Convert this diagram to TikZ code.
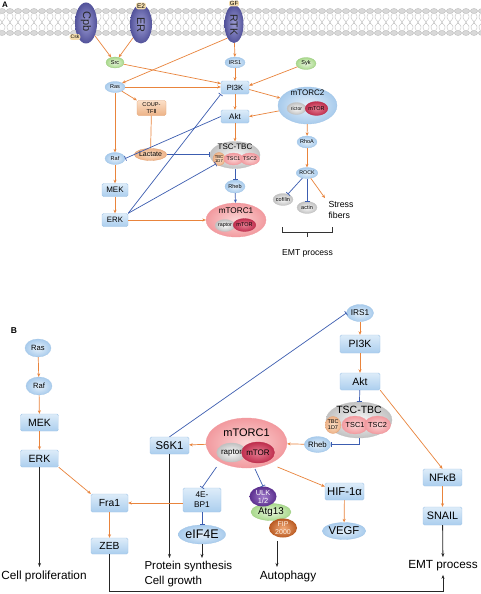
\documentclass[tikz,border=0pt]{standalone}
\usepackage{fontspec}
\setmainfont{Liberation Sans}
\newfontfamily\dejavu{DejaVu Sans}
\usetikzlibrary{shapes.geometric,arrows.meta,calc}
\definecolor{oline}{HTML}{E9843C}
\definecolor{bline}{HTML}{3C5DB0}
\definecolor{bxtop}{HTML}{DDECF9}
\definecolor{bxbot}{HTML}{ABCEEE}
\definecolor{bxdraw}{HTML}{A2C6E8}
\definecolor{elin}{HTML}{E6F1FB}
\definecolor{elout}{HTML}{A8CBEC}
\definecolor{gin}{HTML}{EAF6DF}
\definecolor{gout}{HTML}{A9D98C}
\definecolor{gdraw}{HTML}{9CCB80}
\definecolor{orin}{HTML}{FBE0C8}
\definecolor{orout}{HTML}{EDB287}
\definecolor{ordraw}{HTML}{E3A070}
\definecolor{gyin}{HTML}{FAFAFA}
\definecolor{gyout}{HTML}{C2C2C2}
\definecolor{pkin}{HTML}{FBD6D6}
\definecolor{pkout}{HTML}{F29A9F}
\definecolor{rdin}{HTML}{E57D92}
\definecolor{rdout}{HTML}{BF2F4E}
\definecolor{rcin}{HTML}{9C9CD4}
\definecolor{rcout}{HTML}{52529A}
\definecolor{tanc}{HTML}{F4DDAE}
\definecolor{ulkin}{HTML}{A07BCB}
\definecolor{ulkout}{HTML}{5B2F8E}
\definecolor{fipin}{HTML}{F2AA78}
\definecolor{fipout}{HTML}{B95A22}
\newcommand\fsz[1]{\fontsize{#1}{#1}\selectfont}
\tikzset{
  sz/.style 2 args={minimum width=#1pt, minimum height=#2pt},
  bx/.style={rectangle, rounded corners=1.5pt, top color=bxtop, bottom color=bxbot, draw=bxdraw, line width=0.4pt, inner sep=0pt, align=center},
  el/.style={ellipse, inner color=elin, outer color=elout, draw=bxdraw, line width=0.3pt, inner sep=0pt, align=center},
  gel/.style={ellipse, inner color=gin, outer color=gout, draw=gdraw, line width=0.3pt, inner sep=0pt},
  oel/.style={ellipse, inner color=orin, outer color=orout, draw=ordraw, line width=0.3pt, inner sep=0pt, align=center},
  obx/.style={rectangle, rounded corners=1.5pt, top color=orin, bottom color=orout, draw=ordraw, line width=0.3pt, inner sep=0pt, align=center},
  gyel/.style={ellipse, inner color=gyin, outer color=gyout, draw=gyout, line width=0.3pt, inner sep=0pt, align=center},
  pkel/.style={ellipse, inner color=pkin, outer color=pkout, draw=pkout, line width=0.3pt, inner sep=0pt, align=center},
  rdel/.style={ellipse, inner color=rdin, outer color=rdout, draw=rdout, line width=0.3pt, inner sep=0pt, align=center},
  rec/.style={ellipse, inner color=rcin, outer color=rcout, inner sep=0pt},
  tagn/.style={rectangle, rounded corners=2pt, fill=tanc, inner sep=1pt},
  oarr/.style={draw=oline, line width=0.7pt, -{Stealth[length=3.5pt,width=3pt]}},
  oln/.style={draw=oline, line width=0.7pt},
  inh/.style={draw=bline, line width=0.7pt, -{Bar[width=5pt]}},
  barr/.style={draw=bline, line width=0.7pt, -{Stealth[length=3.5pt,width=3pt]}},
  karr/.style={draw=black!85, line width=0.8pt, -{Stealth[length=4pt,width=3pt]}},
  tail/.style={draw=gray!55, line width=0.35pt},
  headc/.style={fill=gray!30, draw=gray!60, line width=0.3pt},
}
\begin{document}
\begin{tikzpicture}[x=1pt,y=-1pt]
\useasboundingbox[fill=white] (0,0) rectangle (480,594);
% ---------------- membrane
\foreach \i in {0,...,60}{
  \draw[tail] (\i*8+0.5,13.5) .. controls (\i*8-2.5,16.5) and (\i*8-1,19.5) .. (\i*8+2.8,22.3);
  \draw[tail] (\i*8+3.5,13.5) .. controls (\i*8+6.5,16.5) and (\i*8+5,19.5) .. (\i*8+1.2,22.3);
  \draw[tail] (\i*8+0.5,30.5) .. controls (\i*8-2.5,27.5) and (\i*8-1,24.5) .. (\i*8+2.8,22.7);
  \draw[tail] (\i*8+3.5,30.5) .. controls (\i*8+6.5,27.5) and (\i*8+5,24.5) .. (\i*8+1.2,22.7);
}
\foreach \i in {0,...,60}{
  \path[headc] (\i*8+2,11) ellipse [x radius=3.6pt, y radius=2.5pt];
  \path[headc] (\i*8+2,33) ellipse [x radius=3.6pt, y radius=2.5pt];
}
\node[font=\bfseries\fsz{8}] (labA) at (5,5) {A};
% receptors
\node[rec, sz={22}{41}] (cpb) at (86,23) {};
\node[rotate=-90, font=\fsz{11}, text=black!85] (cpbt) at (86,22) {Cpb};
\node[tagn, font=\fsz{5}] (csk) at (75,37) {Csk};
\node[rec, sz={22}{39}] (er) at (141,24) {};
\node[rotate=-90, font=\fsz{11}, text=black!85] (ert) at (141,25) {ER};
\node[tagn, font=\fsz{6.5}] (e2) at (141,6) {E2};
\node[rec, sz={19}{38}] (rtk) at (234,24) {};
\node[rotate=-90, font=\fsz{10.5}, text=black!85] (rtkt) at (234,25) {RTK};
\node[tagn, font=\fsz{6}, inner sep=0.8pt] (gf) at (234,3.5) {GF};
% ---------------- A nodes
\node[gel, sz={18}{11}, font=\fsz{5.5}] (srca) at (115,62.5) {Src};
\node[el, sz={20}{11}, font=\fsz{5.5}] (rasa) at (115,87) {Ras};
\node[obx, sz={29}{15}, font=\fontsize{5.6}{6.5}\selectfont] (coup) at (151.5,108) {COUP-\\TF{\dejavu Ⅱ}};
\node[el, sz={20}{12}, font=\fsz{5.5}] (rafa) at (115,158.5) {Raf};
\node[oel, sz={28}{12}, font=\fsz{7}] (lact) at (150.5,154.5) {Lactate};
\node[bx, sz={26}{13}, font=\fsz{8}] (meka) at (115,190) {MEK};
\node[bx, sz={26}{13}, font=\fsz{7.8}] (erka) at (115,220) {ERK};
\node[el, sz={20}{11}, font=\fsz{5.5}] (irs1a) at (235,62.5) {IRS1};
\node[gel, sz={20}{12}, font=\fsz{5.5}] (syk) at (306,63.5) {Syk};
\node[bx, sz={28}{13}, font=\fsz{7.5}] (pi3ka) at (235,87.5) {PI3K};
\node[bx, sz={28}{13}, font=\fsz{8}] (akta) at (235,116.5) {Akt};
\node[el, sz={59}{37}] (mtorc2) at (307.5,105.5) {};
\node[font=\fsz{8}] (mtorc2t) at (307.5,93) {mTORC2};
\node[gyel, sz={19}{12}, font=\fsz{5}] (rictor) at (296.5,108.5) {rictor};
\node[rdel, sz={21}{14}, font=\fsz{5.5}] (mtor2) at (316.5,108.5) {mTOR};
\node[el, sz={20}{12}, font=\fsz{5.5}] (rhoa) at (307,142) {RhoA};
\node[el, sz={20}{11}, font=\fsz{5.3}] (rock) at (307,173) {ROCK};
\node[gyel, sz={20}{12}, font=\fsz{5.5}] (cofilin) at (283,199.5) {cofilin};
\node[gyel, sz={20}{12}, font=\fsz{5.5}] (actin) at (307,207.5) {actin};
\node[anchor=west, align=left, font=\fontsize{8.8}{10.5}\selectfont] (stressa) at (325,210) {Stress\\fibers};
\node[font=\fsz{8.6}] (emta) at (307.5,253) {EMT process};
\node[gyel, sz={50}{27}] (tsca) at (235,155) {};
\node[font=\fsz{8}] (tscat) at (235,147) {TSC-TBC};
\node[oel, sz={12}{13}, font=\fontsize{4.2}{4.6}\selectfont] (tbca) at (219,159) {TBC\\1D7};
\node[pkel, sz={17}{12}, font=\fsz{5.3}] (tsc1a) at (233.5,159) {TSC1};
\node[pkel, sz={17}{12}, font=\fsz{5.3}] (tsc2a) at (250,159) {TSC2};
\node[el, sz={20}{13}, font=\fsz{5.5}] (rheba) at (235,186.5) {Rheb};
\node[pkel, sz={60}{34}] (mtorc1a) at (236,220) {};
\node[font=\fsz{8.2}] (mtorc1at) at (236,211) {mTORC1};
\node[gyel, sz={18}{12}, font=\fsz{5.3}] (raptora) at (225,225.5) {raptor};
\node[rdel, sz={21}{13}, font=\fsz{5.5}] (mtora) at (244.5,225) {mTOR};
% ---------------- A edges
\draw[oarr] (cpb.-55) -- (srca);
\draw[oarr] (er.-120) -- (srca);
\draw[oarr] (rtk.-115) -- (rasa.north east);
\draw[oarr] (rtk) -- (irs1a);
\draw[oarr] (irs1a) -- (pi3ka);
\draw[oarr] (srca) -- ($(pi3ka.west)+(0,-4)$);
\draw[oarr] (rasa) -- (pi3ka.west |- rasa);
\draw[oarr] (rasa) -- (coup.north west);
\draw[oarr] (rasa) -- (rafa);
\draw[oln] (coup) -- (lact);
\draw[inh] (lact) -- (tsca.west |- lact);
\draw[oarr] (syk) -- ($(pi3ka.east)+(0,-2)$);
\draw[oarr] ($(pi3ka.east)+(0,2)$) -- (mtorc2);
\draw[oarr] (mtorc2) -- (akta.east);
\draw[oarr] (pi3ka) -- (akta);
\draw[oarr] (akta) -- (tsca);
\draw[inh] (tsca) -- (rheba);
\draw[barr] (rheba) -- (mtorc1a);
\draw[inh] (akta.west) -- (rafa.east);
\draw[inh] (erka.north east) -- (pi3ka.south west);
\draw[inh] (erka.north east) -- (tsca.205);
\draw[oarr] (erka) -- (mtorc1a);
\draw[oarr] (rafa) -- (meka);
\draw[oarr] (meka) -- (erka);
\draw[oarr] (mtorc2) -- (rhoa);
\draw[oarr] (rhoa) -- (rock);
\draw[inh] (rock) -- (cofilin);
\draw[inh] (rock) -- (actin);
\draw[oarr] (rock) -- (stressa.north west);
\draw[black!80, line width=0.6pt] (282.5,227) -- (282.5,232) -- (332,232) -- (332,227);
\draw[black!80, line width=0.6pt] (307.5,232) -- (307.5,237);
% ---------------- B nodes
\node[font=\bfseries\fsz{8.5}] (labB) at (14,331) {B};
\node[el, sz={26}{18}, font=\fsz{7.6}] (rasb) at (38,348) {Ras};
\node[el, sz={26}{18}, font=\fsz{7.6}] (rafb) at (39,386) {Raf};
\node[bx, sz={38}{17}, font=\fsz{10.5}] (mekb) at (39.5,422.5) {MEK};
\node[bx, sz={38}{17}, font=\fsz{10.5}] (erkb) at (39.5,458.5) {ERK};
\node[font=\fsz{11.8}] (prolif) at (44,576) {Cell proliferation};
\node[bx, sz={37}{18}, font=\fsz{10.3}] (fra1) at (109.5,503) {Fra1};
\node[bx, sz={37}{16}, font=\fsz{10.3}] (zeb) at (109.5,546) {ZEB};
\node[el, sz={27}{17}, font=\fsz{8.3}] (irs1b) at (360,313) {IRS1};
\node[bx, sz={40}{18}, font=\fsz{10.5}] (pi3kb) at (360,344) {PI3K};
\node[bx, sz={40}{17}, font=\fsz{10.5}] (aktb) at (360,381.5) {Akt};
\node[gyel, sz={66}{36}] (tscb) at (359,420) {};
\node[font=\fsz{10.5}] (tscbt) at (359,410) {TSC-TBC};
\node[oel, sz={14}{17}, font=\fontsize{5.5}{6}\selectfont] (tbcb) at (333,425) {TBC\\1D7};
\node[pkel, sz={22}{18}, font=\fsz{7.3}] (tsc1b) at (355,425) {TSC1};
\node[pkel, sz={22}{18}, font=\fsz{7.3}] (tsc2b) at (377.5,425) {TSC2};
\node[el, sz={26}{16}, font=\fsz{7.8}] (rhebb) at (317.5,444.5) {Rheb};
\node[pkel, sz={81}{50}] (mtorc1b) at (246.5,443) {};
\node[font=\fsz{11}] (mtorc1bt) at (246.5,432.5) {mTORC1};
\node[gyel, sz={27}{19}, font=\fsz{8}] (raptorb) at (231.5,452.5) {raptor};
\node[rdel, sz={28}{21}, font=\fsz{8}] (mtorb) at (258,452.5) {mTOR};
\node[bx, sz={39}{17}, font=\fsz{11.3}] (s6k1) at (169.5,445.5) {S6K1};
\node[bx, sz={38}{24}, font=\fontsize{8.3}{10}\selectfont] (ebp1) at (202,500) {4E-\\BP1};
\node[el, sz={40}{19}, font=\fsz{12.5}] (eif) at (202,534.5) {eIF4E};
\node[gel, sz={40}{17}, font=\fsz{9.8}] (atg) at (271,512) {Atg13};
\node[ellipse, inner color=ulkin, outer color=ulkout, inner sep=0pt, sz={27}{20}, font=\fontsize{7.4}{8}\selectfont, text=white, align=center] (ulk) at (263,496.5) {ULK\\1/2};
\node[ellipse, inner color=fipin, outer color=fipout, inner sep=0pt, sz={28}{19}, font=\fontsize{7}{7.5}\selectfont, text=white!90!orange, align=center] (fip) at (283,528) {FIP\\2000};
\node[bx, sz={39}{17}, font=\fsz{11.3}] (hif) at (344.5,491.5) {HIF-1α};
\node[el, sz={40}{17}, font=\fsz{11.3}] (vegf) at (344,531) {VEGF};
\node[bx, sz={39}{17}, font=\fsz{10.8}] (nfkb) at (442.5,477.5) {NFκB};
\node[bx, sz={39}{18}, font=\fsz{10.8}] (snail) at (442.5,516) {SNAIL};
\node[anchor=north west, align=left, font=\fontsize{11.5}{15}\selectfont] (prot) at (141,558) {Protein synthesis\\Cell growth};
\node[font=\fsz{11.8}] (autoph) at (288,576) {Autophagy};
\node[font=\fsz{11.8}] (emtb) at (443,566) {EMT process};
\coordinate (aut0) at (277,541);
\coordinate (botr) at (443,591);
% ---------------- B edges
\draw[oarr] (rasb) -- (rafb);
\draw[oarr] (rafb) -- (mekb);
\draw[oarr] (mekb) -- (erkb);
\draw[karr] (erkb.south) -- (erkb.south |- prolif.north);
\draw[oarr] (erkb.south east) -- (fra1.north west);
\draw[oarr] (fra1) -- (zeb);
\draw[karr] (zeb.south) |- (botr) -- (emtb.south);
\draw[oarr] (irs1b) -- (pi3kb);
\draw[oarr] (pi3kb) -- (aktb);
\draw[inh] (aktb) -- (tscb);
\draw[inh] (tscb.south) |- (rhebb.east);
\draw[oarr] (rhebb) -- (mtorc1b);
\draw[oarr] (mtorc1b) -- (s6k1);
\draw[inh] (s6k1.north) -- (irs1b.west);
\draw[karr] (s6k1.south) -- (s6k1.south |- prot.north);
\draw[inh] ($(mtorc1b.center)+(-30,24)$) -- (ebp1.north);
\draw[oarr] (ebp1.west |- fra1.east) -- (fra1.east);
\draw[inh] (ebp1) -- (eif);
\draw[karr] (eif.south) -- (eif.south |- prot.north);
\draw[inh] ($(mtorc1b.center)+(8.5,26)$) -- (ulk.north);
\draw[karr] (aut0) -- (aut0 |- autoph.north);
\draw[oarr] ($(mtorc1b.center)+(31,24)$) -- ($(hif.west)+(0,-5)$);
\draw[oarr] (hif) -- (vegf);
\draw[oarr] (aktb.south east) -- (nfkb.north);
\draw[oarr] (nfkb) -- (snail);
\draw[karr] (snail) -- (emtb);
\end{tikzpicture}
\end{document}
